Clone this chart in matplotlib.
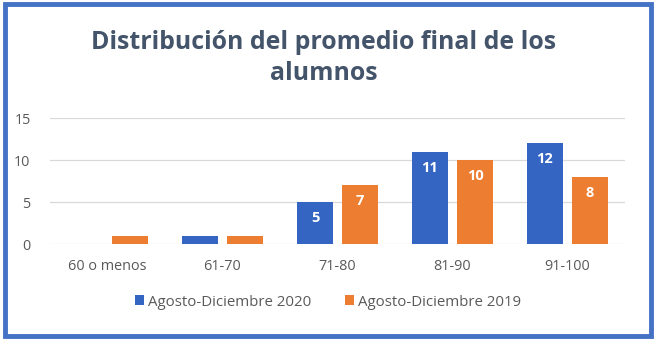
import numpy as np
import matplotlib.pyplot as plt
from matplotlib.patches import Rectangle

categorias = ['60 o menos', '61-70', '71-80', '81-90', '91-100']
serie_2020 = [0, 1, 5, 11, 12]
serie_2019 = [1, 1, 7, 10, 8]
nombre_2020 = 'Agosto-Diciembre 2020'
nombre_2019 = 'Agosto-Diciembre 2019'
titulo = 'Distribución del promedio final de los\nalumnos'

azul = '#3565C3'
naranja = '#ED7D31'
gris = '#595959'

plt.rcParams['font.family'] = ['Open Sans', 'DejaVu Sans']

fig = plt.figure(figsize=(6.56, 3.4), dpi=100)
fig.patch.set_facecolor('white')

# marco azul alrededor del grafico
fig.patches.append(Rectangle((0.007, 0.012), 0.986, 0.976, transform=fig.transFigure,
                             fill=False, edgecolor='#4472C4', linewidth=3.5))

ax = fig.add_axes([50/656, 1 - 244/340, 575/656, 126/340])

x = np.arange(len(categorias))
w = 0.31
off = 0.196
b1 = ax.bar(x - off, serie_2020, w, color=azul, label=nombre_2020, zorder=3)
b2 = ax.bar(x + off, serie_2019, w, color=naranja, label=nombre_2019, zorder=3)

# etiquetas de valor dentro de las barras (solo las altas)
for barras in (b1, b2):
    for r in barras:
        h = r.get_height()
        if h >= 5:
            ax.text(r.get_x() + r.get_width()/2, h - 1.9, f'{h:g}', ha='center', va='center',
                    color='white', fontsize=10.5, fontweight='bold', zorder=4)

ax.set_xlim(-0.5, len(categorias) - 0.5)
ax.set_ylim(0, 15)
ax.set_yticks([0, 5, 10, 15])
ax.yaxis.grid(True, color='#D9D9D9', linewidth=0.9, zorder=0)
for s in ax.spines.values():
    s.set_visible(False)
ax.tick_params(axis='both', length=0, colors=gris, labelsize=10.4)
ax.tick_params(axis='x', pad=11)
ax.tick_params(axis='y', pad=14)
ax.set_xticks(x)
ax.set_xticklabels(categorias)

fig.text(324/656, 1 - 58/340, titulo, ha='center', va='center', fontsize=17.9,
         fontweight='bold', color='#44546A', linespacing=1.3)

fig.legend(handles=[b1, b2], loc='center', bbox_to_anchor=(328/656, 1 - 302/340), ncol=2,
           frameon=False, fontsize=10.8, labelcolor=gris, handlelength=0.6, handleheight=0.6,
           handletextpad=0.3, columnspacing=2.2)

fig.savefig('out.png', dpi=100, facecolor='white')
